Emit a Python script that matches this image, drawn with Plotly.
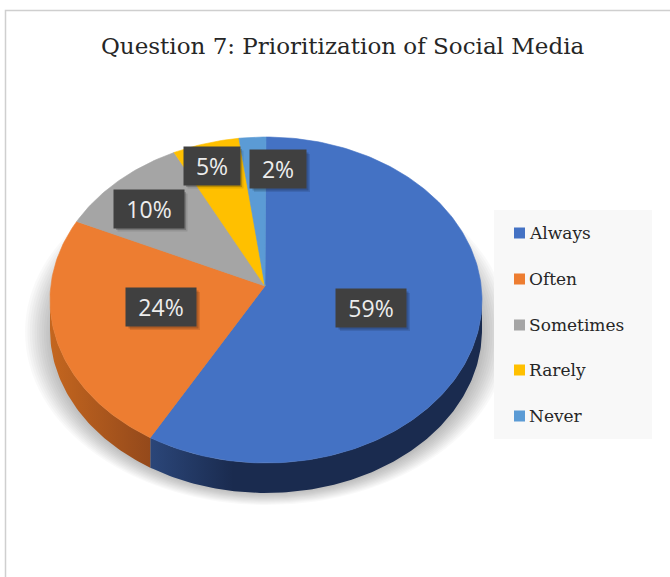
import numpy as np
import plotly.graph_objects as go

# Survey answers for question 7
categories = ["Always", "Often", "Sometimes", "Rarely", "Never"]
percentages = [59, 24, 10, 5, 2]
colors = ["#4472C4", "#ED7D31", "#A5A5A5", "#FFC000", "#5B9BD5"]
side_colors = [("#2B4679", "#1A2B4F"), ("#C4661F", "#94491B"),
               ("#7A7A7A", "#5E5E5E"), ("#BF9000", "#997300"),
               ("#44749F", "#365D80")]

# Pie geometry (axis units equal screen pixels)
CX, CY = 266, 300          # centre of the top ellipse
RX, RY = 216, 163          # ellipse radii
APEX = (265, 286)          # where the slices meet on the tilted face
DEPTH = 30                 # thickness of the disc

# Data label box centres
label_pos = [(371, 308), (161, 307), (148.5, 208.5), (211.5, 165.5), (278, 169)]

# Legend layout
LEG_X, LEG_ROWS = 519.5, [233, 279, 325, 370, 416]


def arc(t0, t1, dy=0.0):
    t = np.radians(np.linspace(t0, t1, max(int(abs(t1 - t0)) + 2, 3)))
    return CX + RX * np.sin(t), CY - RY * np.cos(t) + dy


fig = go.Figure()

total = sum(percentages)
bounds = np.concatenate([[0], np.cumsum(percentages) / total * 360])

# Side walls (front half only, 90..270 deg clockwise from top)
for i, cat in enumerate(categories):
    a, b = max(bounds[i], 90), min(bounds[i + 1], 270)
    if a >= b:
        continue
    xt, yt = arc(a, b)
    xb, yb = arc(b, a, DEPTH)
    xs = np.concatenate([xt, xb, xt[:1]])
    ys = np.concatenate([yt, yb, yt[:1]])
    c0, c1 = side_colors[i]
    fig.add_trace(go.Scatter(
        x=xs, y=ys, mode="lines", fill="toself", line=dict(width=0),
        fillgradient=dict(type="horizontal",
                          colorscale=[[0, c0], [0.25, c1], [1, c1]] if i == 0
                          else [[0, c0], [1, c1]]),
        hoverinfo="skip", showlegend=False))

# Top face slices
for i, cat in enumerate(categories):
    xa, ya = arc(bounds[i], bounds[i + 1])
    xs = np.concatenate([[APEX[0]], xa, [APEX[0]]])
    ys = np.concatenate([[APEX[1]], ya, [APEX[1]]])
    fig.add_trace(go.Scatter(
        x=xs, y=ys, mode="lines", fill="toself", fillcolor=colors[i],
        line=dict(width=0.6, color=colors[i]), name=cat,
        hovertemplate=f"{cat}: {percentages[i]}%<extra></extra>",
        showlegend=False))

shapes = []

# Soft shadow under the disc
for k in range(12):
    t = k / 11
    a, b, cy = 242 - 26 * t, 173 - 14 * t, 332 + 2 * t
    shapes.append(dict(type="circle", xref="x", yref="y", layer="below",
                       x0=CX + 1 - a, x1=CX + 1 + a, y0=cy - b, y1=cy + b,
                       fillcolor="rgba(0,0,0,0.025)", line=dict(width=0)))

# Legend panel
shapes.append(dict(type="rect", xref="x", yref="y", layer="below",
                   x0=494, x1=652, y0=210, y1=439,
                   fillcolor="#F8F8F8", line=dict(width=0)))

# Outer frame
shapes.append(dict(type="path", xref="x", yref="y",
                   path="M 5.5 577 L 5.5 10.5 L 670 10.5",
                   line=dict(color="#CFCFCF", width=1.5)))

annotations = []

# Data labels with dark boxes and drop shadows
for i, (px, py) in enumerate(label_pos):
    txt = f"{percentages[i]}%"
    w, h = (56 if len(txt) == 2 else 70), 38
    for off, alpha in [(4, 0.10), (2.5, 0.18)]:
        shapes.append(dict(type="rect", xref="x", yref="y", layer="above",
                           x0=px - w / 2 + off, x1=px + w / 2 + off,
                           y0=py - h / 2 + off, y1=py + h / 2 + off,
                           fillcolor=f"rgba(0,0,0,{alpha})", line=dict(width=0)))
    annotations.append(dict(
        x=px, y=py, xref="x", yref="y", text=txt, showarrow=False,
        width=w, height=h, borderpad=0, bgcolor="#404040",
        font=dict(family="Open Sans", size=23, color="#EDEDED"),
        xanchor="center", yanchor="middle"))

# Legend markers and labels
fig.add_trace(go.Scatter(
    x=[LEG_X] * len(categories), y=LEG_ROWS, mode="markers",
    marker=dict(symbol="square", size=11, color=colors, line=dict(width=0)),
    hoverinfo="skip", showlegend=False))
for cat, yy in zip(categories, LEG_ROWS):
    annotations.append(dict(
        x=527, y=yy, xref="x", yref="y", text=cat, showarrow=False,
        xanchor="left", yanchor="middle",
        font=dict(family="DejaVu Serif", size=17, color="#262626")))

# Chart title
annotations.append(dict(
    x=343, y=46, xref="x", yref="y", text="Question 7: Prioritization of Social Media",
    showarrow=False, xanchor="center", yanchor="middle",
    font=dict(family="DejaVu Serif", size=23, color="#262626")))

fig.update_layout(
    width=670, height=577, margin=dict(l=0, r=0, t=0, b=0),
    paper_bgcolor="white", plot_bgcolor="white",
    xaxis=dict(range=[0, 670], visible=False, fixedrange=True),
    yaxis=dict(range=[577, 0], visible=False, fixedrange=True),
    shapes=shapes, annotations=annotations, showlegend=False)

fig.write_html("out.html")
